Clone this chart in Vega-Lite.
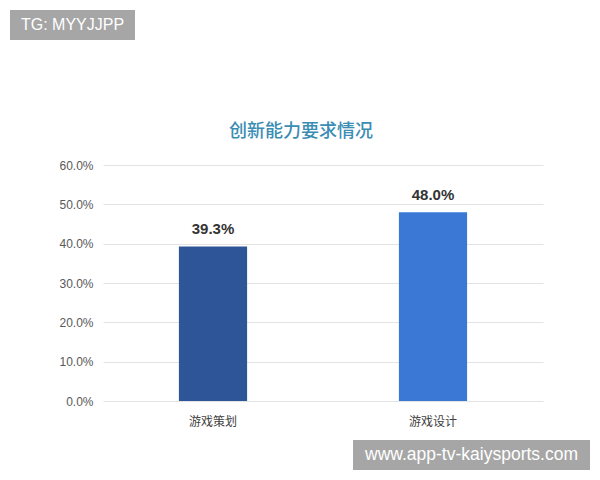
{
  "$schema": "https://vega.github.io/schema/vega-lite/v6.json",
  "padding": {"left": 10, "top": 10, "right": 10, "bottom": 10},
  "background": "white",
  "config": {"view": {"stroke": null}, "font": "Noto Sans CJK SC"},
  "spacing": 83,
  "bounds": "full",
  "vconcat": [
    {
      "width": 125,
      "height": 30,
      "view": {"fill": "#a6a6a6", "stroke": null},
      "data": {"values": [{"t": "TG: MYYJJPP"}]},
      "mark": {"type": "text", "color": "white", "fontSize": 16, "font": "Liberation Sans"},
      "encoding": {"text": {"field": "t"}}
    },
    {
      "spacing": 13,
      "bounds": "full",
      "vconcat": [
        {
          "spacing": 10,
          "bounds": "full",
          "hconcat": [
            {
              "width": 38,
              "height": 10,
              "data": {"values": [{"t": ""}]},
              "mark": {"type": "text"},
              "encoding": {"text": {"field": "t"}}
            },
            {
              "width": 440,
              "height": 236,
              "title": {
                "text": "创新能力要求情况",
                "fontSize": 18,
                "fontWeight": 500,
                "font": "Noto Sans CJK SC",
                "color": "#3a8db3",
                "anchor": "middle",
                "frame": "bounds",
                "offset": 18
              },
              "data": {"values": [
                {"岗位": "游戏策划", "比例": 0.393},
                {"岗位": "游戏设计", "比例": 0.48}
              ]},
              "encoding": {
                "x": {
                  "field": "岗位",
                  "type": "nominal",
                  "sort": null,
                  "scale": {"paddingInner": 0.69, "paddingOuter": 0.345},
                  "axis": {"title": null, "labelAngle": 0, "domain": false, "ticks": false, "labelFontSize": 12, "labelColor": "#404040", "labelPadding": 15, "labelFont": "Noto Sans CJK SC"}
                },
                "y": {
                  "field": "比例",
                  "type": "quantitative",
                  "scale": {"domain": [0, 0.6]},
                  "axis": {"title": null, "format": ".1%", "values": [0, 0.1, 0.2, 0.3, 0.4, 0.5, 0.6], "domain": false, "ticks": false, "labelPadding": 10, "gridColor": "#e3e3e3", "labelColor": "#595959", "labelFontSize": 12, "labelFont": "Liberation Sans"}
                }
              },
              "layer": [
                {
                  "mark": {"type": "bar"},
                  "encoding": {
                    "color": {"field": "岗位", "type": "nominal", "sort": null, "scale": {"range": ["#2e5597", "#3b78d6"]}, "legend": null}
                  }
                },
                {
                  "mark": {"type": "text", "dy": -12, "baseline": "alphabetic", "fontWeight": "bold", "fontSize": 15, "color": "#333333", "font": "Liberation Sans"},
                  "encoding": {"text": {"field": "比例", "type": "quantitative", "format": ".1%"}}
                }
              ]
            }
          ]
        },
        {
          "spacing": 0,
          "bounds": "full",
          "hconcat": [
            {
              "width": 343,
              "height": 30,
              "data": {"values": [{"t": ""}]},
              "mark": {"type": "text"},
              "encoding": {"text": {"field": "t"}}
            },
            {
              "width": 237,
              "height": 30,
              "view": {"fill": "#a6a6a6", "stroke": null},
              "data": {"values": [{"t": "www.app-tv-kaiysports.com"}]},
              "mark": {"type": "text", "color": "white", "fontSize": 17.5, "font": "Liberation Sans"},
              "encoding": {"text": {"field": "t"}}
            }
          ]
        }
      ]
    }
  ]
}
